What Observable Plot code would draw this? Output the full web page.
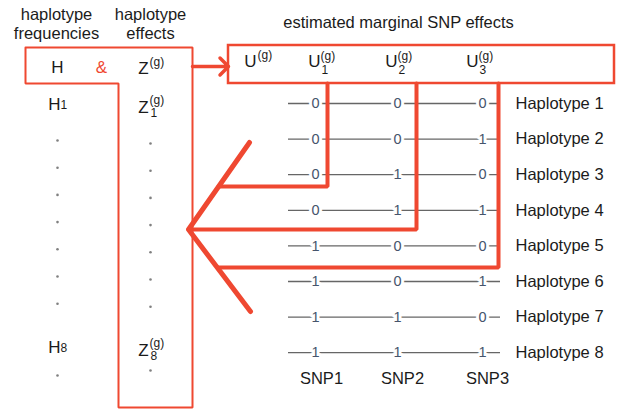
<!DOCTYPE html>
<html><head><meta charset="utf-8">
<script src="https://cdn.jsdelivr.net/npm/d3@7"></script>
<script src="https://cdn.jsdelivr.net/npm/@observablehq/plot@0.6"></script>
<style>body{margin:0;background:#fff}svg{display:block}</style>
</head><body><div id="chart"></div>
<script>
// ---- data ----
const haplotypes = ["Haplotype 1","Haplotype 2","Haplotype 3","Haplotype 4","Haplotype 5","Haplotype 6","Haplotype 7","Haplotype 8"];
const snps = ["SNP1","SNP2","SNP3"];
const alleles = [[0,0,0],[0,0,1],[0,1,0],[0,1,1],[1,0,0],[1,0,1],[1,1,0],[1,1,1]];
const headerLeft = ["haplotype","frequencies"];
const headerRight = ["haplotype","effects"];
const title = "estimated marginal SNP effects";
const uSubs = ["1","2","3"];
const hSubs = ["1","8"];
const dotsBetween = 7, dotsAfter = 1;

// ---- layout ----
const RED = "#ef4831", INK = "#1b1b1b", DIGIT = "#46546c", GRAY = "#666";
const FONT = "Liberation Sans, Arial, Helvetica, sans-serif";
const rowY = i => 103 + i * 35.6;
const snpX = [315, 397, 482];
const snpLabelX = [321, 402, 487];
const uX = [314, 391, 472];
const redX = [327, 416, 498];
const turnY = [186, 229, 267];
const tip = {x: 188, y: 229};
const hX = 57, zX = 143;

// texts
const label = [], rowLabels = [], big = [], sup = [], small = [], digits = [];
headerLeft.forEach((t, k) => label.push({t, x: 56, y: 14 + k * 19}));
headerRight.forEach((t, k) => label.push({t, x: 150, y: 14 + k * 19}));
label.push({t: title, x: 398, y: 22});
haplotypes.forEach((t, i) => rowLabels.push({t, x: 515, y: rowY(i)}));
snps.forEach((t, j) => label.push({t, x: snpLabelX[j], y: 378}));
alleles.forEach((row, i) => row.forEach((v, j) => digits.push({t: String(v), x: snpX[j], y: rowY(i)})));

// H & Z^(g)
big.push({t: "H", x: hX, y: 67});
big.push({t: "Z", x: zX, y: 68});
sup.push({t: "(g)", x: zX + 6, y: 62});
const hRowsY = [104, 347];
hSubs.forEach((s, k) => {
  const y = hRowsY[k];
  big.push({t: "H", x: hX - 3, y});
  small.push({t: s, x: hX + 3, y: y + 1});
  big.push({t: "Z", x: zX, y: y + 3});
  sup.push({t: "(g)", x: zX + 6, y: y - 4});
  small.push({t: s, x: zX + 7, y: y + 9});
});
// U^(g) and U_j^(g)
big.push({t: "U", x: 250, y: 61});
sup.push({t: "(g)", x: 257, y: 55});
uSubs.forEach((s, j) => {
  big.push({t: "U", x: uX[j], y: 61});
  sup.push({t: "(g)", x: uX[j] + 6, y: 56});
  small.push({t: s, x: uX[j] + 7, y: 70});
});

// dots
const dots = [];
for (let k = 0; k < dotsBetween; k++) {
  dots.push({x: hX, y: 140 + k * 27.2});
  dots.push({x: zX + 7, y: 143 + k * 27.2});
}
for (let k = 0; k < dotsAfter; k++) {
  dots.push({x: hX, y: 375});
  dots.push({x: zX + 7, y: 370});
}

// red paths
const thin = [];
[[25,47],[192,47],[192,407],[118,407],[118,83],[25,83],[25,47]].forEach(([x,y]) => thin.push({id: "L", x, y}));
const thick = [];
redX.forEach((x, j) => {
  const endX = j === 1 ? tip.x : 218;
  [[x, 83], [x, turnY[j]], [endX, turnY[j]]].forEach(([px, py]) => thick.push({id: "u" + j, x: px, y: py}));
});
const diag = [];
[[249,142],[tip.x,tip.y],[250,311]].forEach(([x,y]) => diag.push({id: "d", x, y}));

const chart = Plot.plot({
  width: 619, height: 412, margin: 0,
  x: {domain: [0, 619], range: [0, 619], axis: null},
  y: {domain: [0, 412], range: [0, 412], axis: null},
  style: {fontFamily: FONT, background: "#fff"},
  marks: [
    // haplotype rows
    Plot.ruleY(haplotypes, {y: (d, i) => rowY(i), x1: 288, x2: 500, stroke: GRAY, strokeWidth: 1.3}),
    Plot.text(digits, {x: "x", y: "y", text: "t", fill: DIGIT, fontSize: 14.5, stroke: "white", strokeWidth: 6}),
    // red shapes
    Plot.line(thin, {x: "x", y: "y", z: "id", stroke: RED, strokeWidth: 2, strokeLinejoin: "miter"}),
    Plot.rect([0], {x1: 228, x2: 614, y1: 45, y2: 83, fill: "none", stroke: RED, strokeWidth: 2.5}),
    Plot.arrow([0], {x1: 192, y1: 66, x2: 228, y2: 66, stroke: RED, strokeWidth: 3.5, headLength: 16, headAngle: 90, bend: 0}),
    Plot.line(thick, {x: "x", y: "y", z: "id", stroke: RED, strokeWidth: 4, strokeLinejoin: "miter"}),
    Plot.line(diag, {x: "x", y: "y", z: "id", stroke: RED, strokeWidth: 5, strokeLinecap: "round", strokeLinejoin: "round"}),
    // dots
    Plot.dot(dots, {x: "x", y: "y", r: 1.3, fill: "#808080"}),
    // texts
    Plot.text(label, {x: "x", y: "y", text: "t", fill: INK, fontSize: 16.5}),
    Plot.text(rowLabels, {x: "x", y: "y", text: "t", fill: INK, fontSize: 16.5, textAnchor: "start"}),
    Plot.text(big, {x: "x", y: "y", text: "t", fill: INK, fontSize: 17}),
    Plot.text(sup, {x: "x", y: "y", text: "t", fill: INK, fontSize: 12, textAnchor: "start"}),
    Plot.text(small, {x: "x", y: "y", text: "t", fill: INK, fontSize: 12, textAnchor: "start"}),
    Plot.text(["&"], {x: 101, y: 67, text: d => d, fill: RED, fontSize: 17})
  ]
});
document.getElementById("chart").appendChild(chart);
</script>
</body></html>
